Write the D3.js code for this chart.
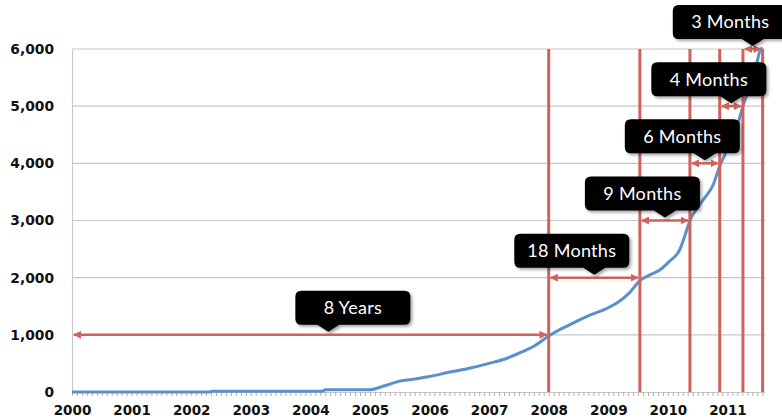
<!DOCTYPE html>
<html>
<head>
<meta charset="utf-8">
<script src="https://cdn.jsdelivr.net/npm/d3@7"></script>
<style>
  html, body { margin: 0; padding: 0; background: #fff; }
  svg { display: block; }
</style>
</head>
<body>
<svg id="chart" width="782" height="420"></svg>
<script>
// ---- data ----
const yearTicks = [2000, 2001, 2002, 2003, 2004, 2005, 2006, 2007, 2008, 2009, 2010, 2011];
const valueTicks = [0, 1000, 2000, 3000, 4000, 5000, 6000];
const seriesYears = [2000.0, 2002.3, 2002.35, 2004.2, 2004.25, 2005.0, 2005.25, 2005.5, 2005.7, 2006.0,
  2006.3, 2006.65, 2007.0, 2007.3, 2007.55, 2007.75, 2008.0, 2008.2, 2008.4, 2008.7,
  2008.95, 2009.15, 2009.35, 2009.53, 2009.7, 2009.87, 2010.03, 2010.2, 2010.3, 2010.37,
  2010.5, 2010.62, 2010.75, 2010.87, 2011.0, 2011.15, 2011.26, 2011.38, 2011.47, 2011.55, 2011.59];
const seriesValues = [0, 0, 15, 15, 40, 40, 110, 190, 220, 270,
  340, 410, 500, 590, 700, 800, 980, 1100, 1200, 1350,
  1450, 1560, 1730, 1950, 2050, 2140, 2290, 2490, 2780, 3000,
  3230, 3400, 3600, 3950, 4250, 4600, 5000, 5350, 5650, 5980, 6020];
const markerYears = [2000.0, 2008.0, 2009.53, 2010.37, 2010.87, 2011.26, 2011.59];
const intervalLevels = [1000, 2000, 3000, 4000, 5000, 6000];
const intervalLabels = ["8 Years", "18 Months", "9 Months", "6 Months", "4 Months", "3 Months"];

// ---- layout ----
const svg = d3.select("#chart");
const x = d3.scaleLinear().domain([2000, 2011.63]).range([72, 765]);
const y = d3.scaleLinear().domain([0, 6000]).range([392, 49]);
const red = "#d0615b";
const blue = "#5b90cf";
const grid = "#c8c8c8";

// grid lines
svg.append("g").selectAll("line").data(valueTicks.filter(v => v > 0)).join("line")
  .attr("x1", x.range()[0]).attr("x2", x.range()[1])
  .attr("y1", d => y(d)).attr("y2", d => y(d))
  .attr("stroke", grid).attr("stroke-width", 1.2);

// y axis
const yAxis = svg.append("g").attr("transform", `translate(${x.range()[0]},0)`)
  .call(d3.axisLeft(y).tickValues(valueTicks).tickFormat(d3.format(",")).tickSize(0).tickPadding(18));
yAxis.select(".domain").attr("stroke", grid).attr("stroke-width", 1.2);
yAxis.selectAll("text").attr("font-family", "DejaVu Sans, Verdana, sans-serif")
  .attr("font-weight", "bold").attr("font-size", 13.8).attr("fill", "#111");

// x axis with monthly minor ticks
const months = d3.range(0, Math.floor((2011.63 - 2000) * 12) + 1).map(m => 2000 + m / 12);
const xMinor = svg.append("g").attr("transform", `translate(0,${y(0)})`)
  .call(d3.axisBottom(x).tickValues(months).tickFormat("").tickSize(4).tickSizeOuter(0));
xMinor.select(".domain").attr("stroke", grid).attr("stroke-width", 1.2);
xMinor.selectAll(".tick line").attr("stroke", "#b0b0b0");
const xAxis = svg.append("g").attr("transform", `translate(0,${y(0)})`)
  .call(d3.axisBottom(x).tickValues(yearTicks).tickFormat(d3.format("d")).tickSize(0).tickPadding(13));
xAxis.select(".domain").remove();
xAxis.selectAll("text").attr("font-family", "DejaVu Sans, Verdana, sans-serif")
  .attr("font-weight", "bold").attr("font-size", 13.5).attr("fill", "#111");

// series line
const line = d3.line().x((d, i) => x(seriesYears[i])).y(d => y(d)).curve(d3.curveMonotoneX);
svg.append("path").datum(seriesValues).attr("d", line)
  .attr("fill", "none").attr("stroke", blue).attr("stroke-width", 3).attr("stroke-linejoin", "round");

// red vertical marker lines
svg.append("g").selectAll("line").data(markerYears.slice(1)).join("line")
  .attr("x1", d => x(d)).attr("x2", d => x(d))
  .attr("y1", y(6000)).attr("y2", y(0))
  .attr("stroke", red).attr("stroke-width", 3);

// arrow markers
const defs = svg.append("defs");
defs.append("marker").attr("id", "ah").attr("viewBox", "0 0 10 10")
  .attr("refX", 9).attr("refY", 5).attr("markerWidth", 3.2).attr("markerHeight", 3.2)
  .attr("orient", "auto-start-reverse")
  .append("path").attr("d", "M0,0L10,5L0,10Z").attr("fill", red);
const sh = defs.append("filter").attr("id", "sh").attr("x", "-10%").attr("y", "-10%").attr("width", "130%").attr("height", "140%");
sh.append("feDropShadow").attr("dx", 2).attr("dy", 2).attr("stdDeviation", 1.5).attr("flood-color", "#000").attr("flood-opacity", 0.35);

const intervals = intervalLabels.map((lab, i) => ({
  label: lab, x0: markerYears[i], x1: markerYears[i + 1], level: intervalLevels[i]
}));

svg.append("g").selectAll("line").data(intervals).join("line")
  .attr("x1", d => x(d.x0) + 2).attr("x2", d => x(d.x1) - 2)
  .attr("y1", d => y(d.level)).attr("y2", d => y(d.level))
  .attr("stroke", red).attr("stroke-width", 2.5)
  .attr("marker-start", "url(#ah)").attr("marker-end", "url(#ah)");

// callouts
const boxW = 115, boxH = 34, gap = 10, tipH = 7, tipW = 11;
const callouts = svg.append("g").selectAll("g").data(intervals).join("g")
  .attr("transform", (d, i) => {
    const px = i === 0 ? (x(d.x0) + x(d.x1)) / 2 + 18 : (x(d.x0) + x(d.x1)) / 2;
    return `translate(${px},${y(d.level) - gap})`;
  });
callouts.append("path")
  .attr("d", (d, i) => {
    const left = i === 0 ? -33 : -80;
    const r = 6, top = -boxH, right = left + boxW, bot = 0;
    return `M${left + r},${top}H${right - r}Q${right},${top} ${right},${top + r}V${bot - r}Q${right},${bot} ${right - r},${bot}` +
      `H${tipW}L0,${tipH}L${-tipW},${bot}H${left + r}Q${left},${bot} ${left},${bot - r}V${top + r}Q${left},${top} ${left + r},${top}Z`;
  })
  .attr("fill", "#000").attr("filter", "url(#sh)");
callouts.append("text")
  .attr("x", (d, i) => (i === 0 ? -33 : -80) + boxW / 2)
  .attr("y", -boxH / 2)
  .attr("dy", "0.36em")
  .attr("text-anchor", "middle")
  .attr("font-family", "Lato, 'Open Sans', sans-serif")
  .attr("font-size", 18)
  .attr("letter-spacing", 0.3)
  .attr("fill", "#fff")
  .text(d => d.label);
</script>
</body>
</html>
